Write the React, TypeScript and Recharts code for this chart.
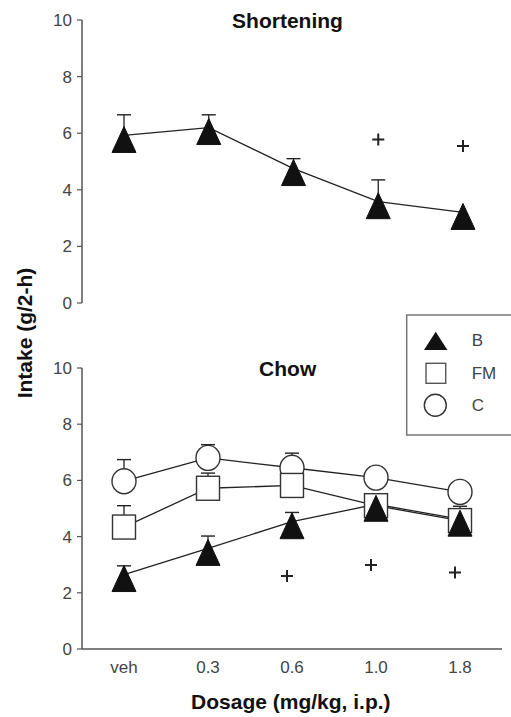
import React from 'react';
import { LineChart, Line, XAxis, YAxis, ErrorBar } from 'recharts';

const doses = ['veh', '0.3', '0.6', '1.0', '1.8'];
const yTicks = [0, 2, 4, 6, 8, 10];

const shortB = [5.92, 6.2, 4.75, 3.58, 3.2];
const shortBErrTop = [6.65, 6.65, 5.1, 4.35, null];
const shortPlus = [null, null, null, 5.78, 5.55];

const chowB = [2.65, 3.58, 4.53, 5.15, 4.62];
const chowBErrTop = [2.96, 4.02, 4.86, null, null];
const chowFM = [4.34, 5.72, 5.82, 5.1, 4.57];
const chowFMErrTop = [5.1, 6.26, null, null, 5.08];
const chowC = [5.97, 6.8, 6.45, 6.1, 5.59];
const chowCErrTop = [6.74, 7.27, 6.97, 6.48, null];
const chowPlus = [null, null, 2.6, 2.99, 2.72];

const errOf = (top: number | null, v: number) => [0, top == null ? 0 : +(top - v).toFixed(3)];

const shortData = doses.map((d, i) => ({
  dose: d,
  b: shortB[i],
  bErr: errOf(shortBErrTop[i], shortB[i]),
  bTop: shortBErrTop[i],
  plus: shortPlus[i],
}));

const chowData = doses.map((d, i) => ({
  dose: d,
  b: chowB[i],
  bErr: errOf(chowBErrTop[i], chowB[i]),
  bTop: chowBErrTop[i],
  fm: chowFM[i],
  fmErr: errOf(chowFMErrTop[i], chowFM[i]),
  fmTop: chowFMErrTop[i],
  c: chowC[i],
  cErr: errOf(chowCErrTop[i], chowC[i]),
  cTop: chowCErrTop[i],
  plus: chowPlus[i],
}));

const FONT = '"Liberation Sans", Arial, sans-serif';
const LINE = '#222';
const AXIS = '#555';

const Tri = (p: any) => {
  const { cx, cy, index } = p;
  if (cx == null || cy == null) return <g key={'t' + index} />;
  return (
    <path
      key={'t' + index}
      d={`M${cx},${cy - 9} L${cx + 12},${cy + 17} L${cx - 12},${cy + 17} Z`}
      fill="#111"
      stroke="#111"
      strokeWidth={1}
    />
  );
};

const Sq = (p: any) => {
  const { cx, cy, index } = p;
  if (cx == null || cy == null) return <g key={'s' + index} />;
  return (
    <rect key={'s' + index} x={cx - 11.5} y={cy - 12} width={23} height={24} fill="#fff" stroke="#333" strokeWidth={1.4} />
  );
};

const Circ = (p: any) => {
  const { cx, cy, index } = p;
  if (cx == null || cy == null) return <g key={'c' + index} />;
  return <ellipse key={'c' + index} cx={cx} cy={cy} rx={12} ry={12.5} fill="#fff" stroke="#333" strokeWidth={1.4} />;
};

const Cap = (p: any) => {
  const { cx, cy, index, value } = p;
  if (cx == null || cy == null || value == null || (Array.isArray(value) && value[1] == null)) return <g key={'k' + index} />;
  return <path key={'k' + index} d={`M${cx - 7},${cy} H${cx + 7}`} stroke={LINE} strokeWidth={1.4} fill="none" />;
};

const makePlus = (dx: number) => (p: any) => {
  const { cx, cy, index, payload } = p;
  if (cx == null || cy == null || payload == null || payload.plus == null) return <g key={'p' + index} />;
  const x = cx + dx;
  return (
    <path key={'p' + index} d={`M${x - 6},${cy} H${x + 6} M${x},${cy - 6} V${cy + 6}`} stroke="#222" strokeWidth={2} fill="none" />
  );
};

const tickStyle = { fontSize: 17, fill: '#444', fontFamily: FONT };

export default function App() {
  return (
    <div style={{ position: 'absolute', left: 0, top: 0, width: 511, height: 717, background: '#fff', fontFamily: FONT }}>
      <div style={{ position: 'absolute', left: 0, top: 0 }}>
        <LineChart width={511} height={320} data={shortData} margin={{ top: 20, right: 6, bottom: 17, left: 0 }}>
          <XAxis
            dataKey="dose"
            scale="point"
            padding={{ left: 42, right: 42 }}
            height={0}
            tick={false}
            tickLine={false}
            axisLine={{ stroke: AXIS, strokeWidth: 1.5 }}
          />
          <YAxis
            width={82}
            domain={[0, 10]}
            ticks={yTicks}
            interval={0}
            tickSize={5}
            tickMargin={5}
            tick={tickStyle}
            tickLine={{ stroke: AXIS, strokeWidth: 1.2 }}
            axisLine={{ stroke: AXIS, strokeWidth: 1.5 }}
          />
          <Line dataKey="b" stroke="none" dot={false} activeDot={false} isAnimationActive={false} legendType="none">
            <ErrorBar dataKey="bErr" width={0} stroke={LINE} strokeWidth={1.3} />
          </Line>
          <Line dataKey="bTop" stroke="none" dot={Cap} activeDot={false} isAnimationActive={false} legendType="none" />
          <Line dataKey="b" stroke={LINE} strokeWidth={1.3} dot={Tri} activeDot={false} isAnimationActive={false} />
          <Line dataKey="plus" stroke="none" dot={makePlus(0)} activeDot={false} isAnimationActive={false} />
        </LineChart>
      </div>
      <div style={{ position: 'absolute', left: 0, top: 320 }}>
        <LineChart width={511} height={397} data={chowData} margin={{ top: 48, right: 9, bottom: 38, left: 0 }}>
          <XAxis
            dataKey="dose"
            scale="point"
            padding={{ left: 42, right: 42 }}
            height={30}
            tickLine={false}
            tickSize={6}
            tickMargin={6}
            tick={tickStyle}
            interval={0}
            axisLine={{ stroke: AXIS, strokeWidth: 1.5 }}
          />
          <YAxis
            width={82}
            domain={[0, 10]}
            ticks={yTicks}
            interval={0}
            tickSize={5}
            tickMargin={5}
            tick={tickStyle}
            tickLine={{ stroke: AXIS, strokeWidth: 1.2 }}
            axisLine={{ stroke: AXIS, strokeWidth: 1.5 }}
          />
          <Line dataKey="c" stroke="none" dot={false} activeDot={false} isAnimationActive={false} legendType="none">
            <ErrorBar dataKey="cErr" width={0} stroke={LINE} strokeWidth={1.3} />
          </Line>
          <Line dataKey="cTop" stroke="none" dot={Cap} activeDot={false} isAnimationActive={false} legendType="none" />
          <Line dataKey="fm" stroke="none" dot={false} activeDot={false} isAnimationActive={false} legendType="none">
            <ErrorBar dataKey="fmErr" width={0} stroke={LINE} strokeWidth={1.3} />
          </Line>
          <Line dataKey="fmTop" stroke="none" dot={Cap} activeDot={false} isAnimationActive={false} legendType="none" />
          <Line dataKey="b" stroke="none" dot={false} activeDot={false} isAnimationActive={false} legendType="none">
            <ErrorBar dataKey="bErr" width={0} stroke={LINE} strokeWidth={1.3} />
          </Line>
          <Line dataKey="bTop" stroke="none" dot={Cap} activeDot={false} isAnimationActive={false} legendType="none" />
          <Line dataKey="c" stroke={LINE} strokeWidth={1.3} dot={Circ} activeDot={false} isAnimationActive={false} />
          <Line dataKey="fm" stroke={LINE} strokeWidth={1.3} dot={Sq} activeDot={false} isAnimationActive={false} />
          <Line dataKey="b" stroke={LINE} strokeWidth={1.3} dot={Tri} activeDot={false} isAnimationActive={false} />
          <Line dataKey="plus" stroke="none" dot={makePlus(-5)} activeDot={false} isAnimationActive={false} />
        </LineChart>
      </div>
      <svg width={511} height={717} style={{ position: 'absolute', left: 0, top: 0, pointerEvents: 'none' }}>
        <text x={287.5} y={28.3} textAnchor="middle" fontSize={21} fontWeight="bold" fill="#111" fontFamily={FONT}>
          Shortening
        </text>
        <text x={287.7} y={376} textAnchor="middle" fontSize={21} fontWeight="bold" fill="#111" fontFamily={FONT}>
          Chow
        </text>
        <text x={290.8} y={708.5} textAnchor="middle" fontSize={21} fontWeight="bold" fill="#111" fontFamily={FONT}>
          Dosage (mg/kg, i.p.)
        </text>
        <text
          transform="translate(31.5,333) rotate(-90)"
          textAnchor="middle"
          fontSize={21}
          fontWeight="bold"
          fill="#111"
          fontFamily={FONT}
        >
          Intake (g/2-h)
        </text>
        <rect x={406.7} y={315} width={130} height={120} fill="#fff" stroke="#777" strokeWidth={1.5} />
        <path d="M435.7,331.7 L447.4,350 L424,350 Z" fill="#111" />
        <rect x={426} y={363.3} width={19.7} height={20} fill="#fff" stroke="#555" strokeWidth={1.4} />
        <circle cx={435.3} cy={405.3} r={11} fill="#fff" stroke="#333" strokeWidth={1.4} />
        <text x={471.7} y={345.5} fontSize={17} fill="#444" fontFamily={FONT}>B</text>
        <text x={471.7} y={379.3} fontSize={17} fill="#444" fontFamily={FONT}>FM</text>
        <text x={471.7} y={411.3} fontSize={17} fill="#444" fontFamily={FONT}>C</text>
      </svg>
    </div>
  );
}
